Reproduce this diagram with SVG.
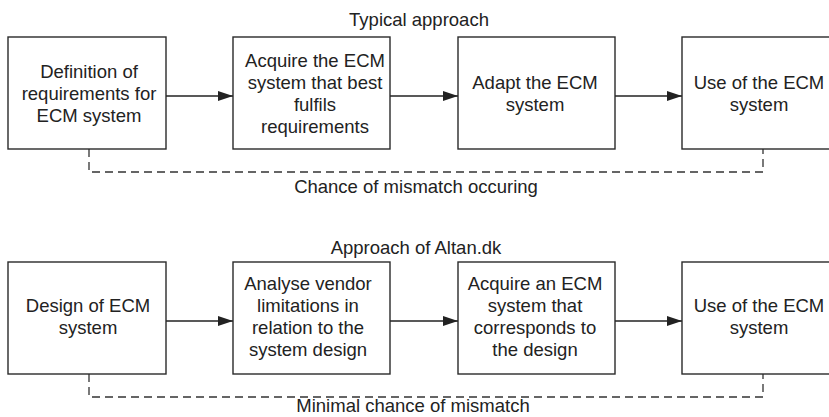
<svg xmlns="http://www.w3.org/2000/svg" width="829" height="417" viewBox="0 0 829 417">
<style>
  .box { fill: #fff; stroke: #2a2a2a; stroke-width: 1.4; }
  .t { font-family: "Liberation Sans", Arial, sans-serif; font-size: 18.5px; fill: #222; text-anchor: middle; }
  .conn { stroke: #222; stroke-width: 1.4; fill: none; }
  .dash { stroke: #333; stroke-width: 1.3; fill: none; stroke-dasharray: 8 5; }
</style>
<defs>
  <marker id="arr" markerWidth="15" markerHeight="10" refX="15" refY="5" orient="auto" markerUnits="userSpaceOnUse">
    <path d="M0,0 L15,5 L0,10 Z" fill="#222"/>
  </marker>
</defs>
<rect width="829" height="417" fill="#fff"/>

<text class="t" x="419" y="26">Typical approach</text>
<text class="t" x="416" y="193">Chance of mismatch occuring</text>
<text class="t" x="416" y="254">Approach of Altan.dk</text>
<text class="t" x="413" y="412">Minimal chance of mismatch</text>

<g id="connectors">
  <line class="conn" x1="166" y1="96" x2="233" y2="96" marker-end="url(#arr)"/>
  <line class="conn" x1="390" y1="96" x2="458" y2="96" marker-end="url(#arr)"/>
  <line class="conn" x1="615" y1="96" x2="682" y2="96" marker-end="url(#arr)"/>
  <path class="dash" d="M89,149 V172 H763 V149"/>
  <line class="conn" x1="166" y1="321" x2="233" y2="321" marker-end="url(#arr)"/>
  <line class="conn" x1="390" y1="321" x2="458" y2="321" marker-end="url(#arr)"/>
  <line class="conn" x1="615" y1="321" x2="682" y2="321" marker-end="url(#arr)"/>
  <path class="dash" d="M89,374 V397 H763 V374"/>
</g>

<g id="n1">
  <rect class="box" x="8" y="37" width="158" height="112"/>
  <text class="t" x="89" y="77.5">Definition of</text>
  <text class="t" x="89" y="99.5">requirements for</text>
  <text class="t" x="89" y="121.5">ECM system</text>
</g>
<g id="n2">
  <rect class="box" x="233" y="37" width="157" height="112"/>
  <text class="t" x="315" y="66.5">Acquire the ECM</text>
  <text class="t" x="315" y="88.5">system that best</text>
  <text class="t" x="315" y="110.5">fulfils</text>
  <text class="t" x="315" y="132.5">requirements</text>
</g>
<g id="n3">
  <rect class="box" x="458" y="37" width="157" height="112"/>
  <text class="t" x="535" y="88.5">Adapt the ECM</text>
  <text class="t" x="535" y="110.5">system</text>
</g>
<g id="n4">
  <rect class="box" x="682" y="37" width="157" height="112"/>
  <text class="t" x="759" y="88.5">Use of the ECM</text>
  <text class="t" x="759" y="110.5">system</text>
</g>

<g id="m1">
  <rect class="box" x="8" y="262" width="158" height="112"/>
  <text class="t" x="88" y="311.5">Design of ECM</text>
  <text class="t" x="88" y="333.5">system</text>
</g>
<g id="m2">
  <rect class="box" x="233" y="262" width="157" height="112"/>
  <text class="t" x="308" y="289.5">Analyse vendor</text>
  <text class="t" x="308" y="311.5">limitations in</text>
  <text class="t" x="308" y="333.5">relation to the</text>
  <text class="t" x="308" y="355.5">system design</text>
</g>
<g id="m3">
  <rect class="box" x="458" y="262" width="157" height="112"/>
  <text class="t" x="535" y="289.5">Acquire an ECM</text>
  <text class="t" x="535" y="311.5">system that</text>
  <text class="t" x="535" y="333.5">corresponds to</text>
  <text class="t" x="535" y="355.5">the design</text>
</g>
<g id="m4">
  <rect class="box" x="682" y="262" width="157" height="112"/>
  <text class="t" x="759" y="311.5">Use of the ECM</text>
  <text class="t" x="759" y="333.5">system</text>
</g>
</svg>
